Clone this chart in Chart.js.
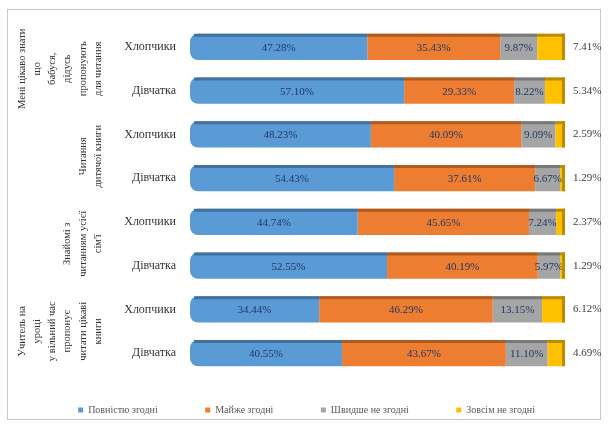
<!DOCTYPE html>
<html>
<head>
<meta charset="utf-8">
<script src="https://cdn.jsdelivr.net/npm/chart.js@4.4.1/dist/chart.umd.min.js"></script>
<style>
  body { margin: 0; background: #fff; }
  #wrap { width: 608px; height: 425px; }
</style>
</head>
<body>
<div id="wrap"><canvas id="myChart" width="608" height="425"></canvas></div>
<script>
const rows = ['Хлопчики', 'Дівчатка', 'Хлопчики', 'Дівчатка', 'Хлопчики', 'Дівчатка', 'Хлопчики', 'Дівчатка'];
const groups = [
    ['Мені цікаво знати', 'що', 'бабуся,', 'дідусь', 'пропонують', 'для читання'],
    ['Читання', 'дитячої книги'],
    ['Знайомі з', 'читанням усієї', 'сім\'ї'],
    ['Учитель на', 'уроці', 'у вільний час', 'пропонує', 'читати цікаві', 'книги']
];
const fully = [47.28, 57.10, 48.23, 54.43, 44.74, 52.55, 34.44, 40.55];
const almost = [35.43, 29.33, 40.09, 37.61, 45.65, 40.19, 46.29, 43.67];
const rather = [9.87, 8.22, 9.09, 6.67, 7.24, 5.97, 13.15, 11.10];
const notAtAll = [7.41, 5.34, 2.59, 1.29, 2.37, 1.29, 6.12, 4.69];
const seriesNames = ['Повністю згодні', 'Майже згодні', 'Швидше не згодні', 'Зовсім не згодні'];
const colors = ['#5B9BD5', '#ED7D31', '#A5A5A5', '#FFC000'];
const shades = ['#41719C', '#AE5A21', '#787878', '#BC8C00'];

const serif = '"Liberation Serif", "Times New Roman", serif';

// frame, group titles, value labels, 3d-ish edges
const extras = {
    id: 'extras',
    beforeDraw(chart) {
        const c = chart.ctx;
        c.save();
        c.strokeStyle = '#c8c8c8';
        c.lineWidth = 1;
        c.strokeRect(7.5, 9.5, 593, 410);
        c.restore();
    },
    afterDatasetsDraw(chart) {
        const c = chart.ctx;
        c.save();
        chart.data.datasets.forEach((ds, di) => {
            chart.getDatasetMeta(di).data.forEach((bar, i) => {
                const top = bar.y - bar.height / 2;
                const left = Math.min(bar.x, bar.base);
                const w = Math.abs(bar.x - bar.base);
                c.fillStyle = shades[di];
                c.fillRect(left + (di === 0 ? 4 : 0), top, w - (di === 0 ? 4 : 0), 3);
                if (di === 3) {
                    c.fillRect(bar.x - 3, top, 3, bar.height);
                }
                const v = ds.data[i];
                c.textBaseline = 'middle';
                c.font = '11px ' + serif;
                if (di === 3) {
                    c.fillStyle = '#404040';
                    c.textAlign = 'left';
                    c.fillText(v.toFixed(2) + '%', bar.x + 8, bar.y);
                } else {
                    c.fillStyle = '#1F3864';
                    c.textAlign = 'center';
                    c.fillText(v.toFixed(2) + '%', (bar.x + bar.base) / 2, bar.y + 1);
                }
            });
        });
        // group titles, rotated
        const y = chart.scales.y;
        c.fillStyle = '#333';
        c.font = '10.5px ' + serif;
        c.textAlign = 'center';
        c.textBaseline = 'middle';
        groups.forEach((lines, g) => {
            const cy = (y.getPixelForValue(g * 2) + y.getPixelForValue(g * 2 + 1)) / 2;
            lines.forEach((t, k) => {
                const x = 98 - (lines.length - 1 - k) * 15.2;
                c.save();
                c.translate(x, cy);
                c.rotate(-Math.PI / 2);
                c.fillText(t, 0, 0);
                c.restore();
            });
        });
        c.restore();
    }
};

const ctx = document.getElementById('myChart').getContext('2d');
const myChart = new Chart(ctx, {
    type: 'bar',
    data: {
        labels: rows,
        datasets: [fully, almost, rather, notAtAll].map((d, i) => ({
            label: seriesNames[i],
            data: d,
            backgroundColor: colors[i],
            borderWidth: 0,
            borderRadius: i === 0 ? { topLeft: 8, bottomLeft: 8 } : 0,
            borderSkipped: false,
            barPercentage: 0.6,
            categoryPercentage: 1
        }))
    },
    options: {
        indexAxis: 'y',
        responsive: false,
        animation: false,
        layout: { padding: { top: 25, right: 43, bottom: 0, left: 0 } },
        scales: {
            x: {
                stacked: true,
                min: 0,
                max: 100,
                display: false
            },
            y: {
                stacked: true,
                grid: { display: false, drawTicks: false },
                border: { display: false },
                ticks: { color: '#333', font: { family: serif, size: 12 }, padding: 14 },
                afterFit(scale) { scale.width = 190; }
            }
        },
        plugins: {
            legend: {
                position: 'bottom',
                align: 'end',
                labels: {
                    boxWidth: 5,
                    boxHeight: 5,
                    padding: 30,
                    color: '#595959',
                    font: { family: serif, size: 10 },
                    generateLabels(chart) {
                        const items = Chart.defaults.plugins.legend.labels.generateLabels(chart);
                        items.forEach((it, i) => {
                            if (i < items.length - 1) it.text += '\u00A0'.repeat(7);
                        });
                        return items;
                    }
                }
            },
            tooltip: { enabled: false }
        }
    },
    plugins: [extras]
});
</script>
</body>
</html>
